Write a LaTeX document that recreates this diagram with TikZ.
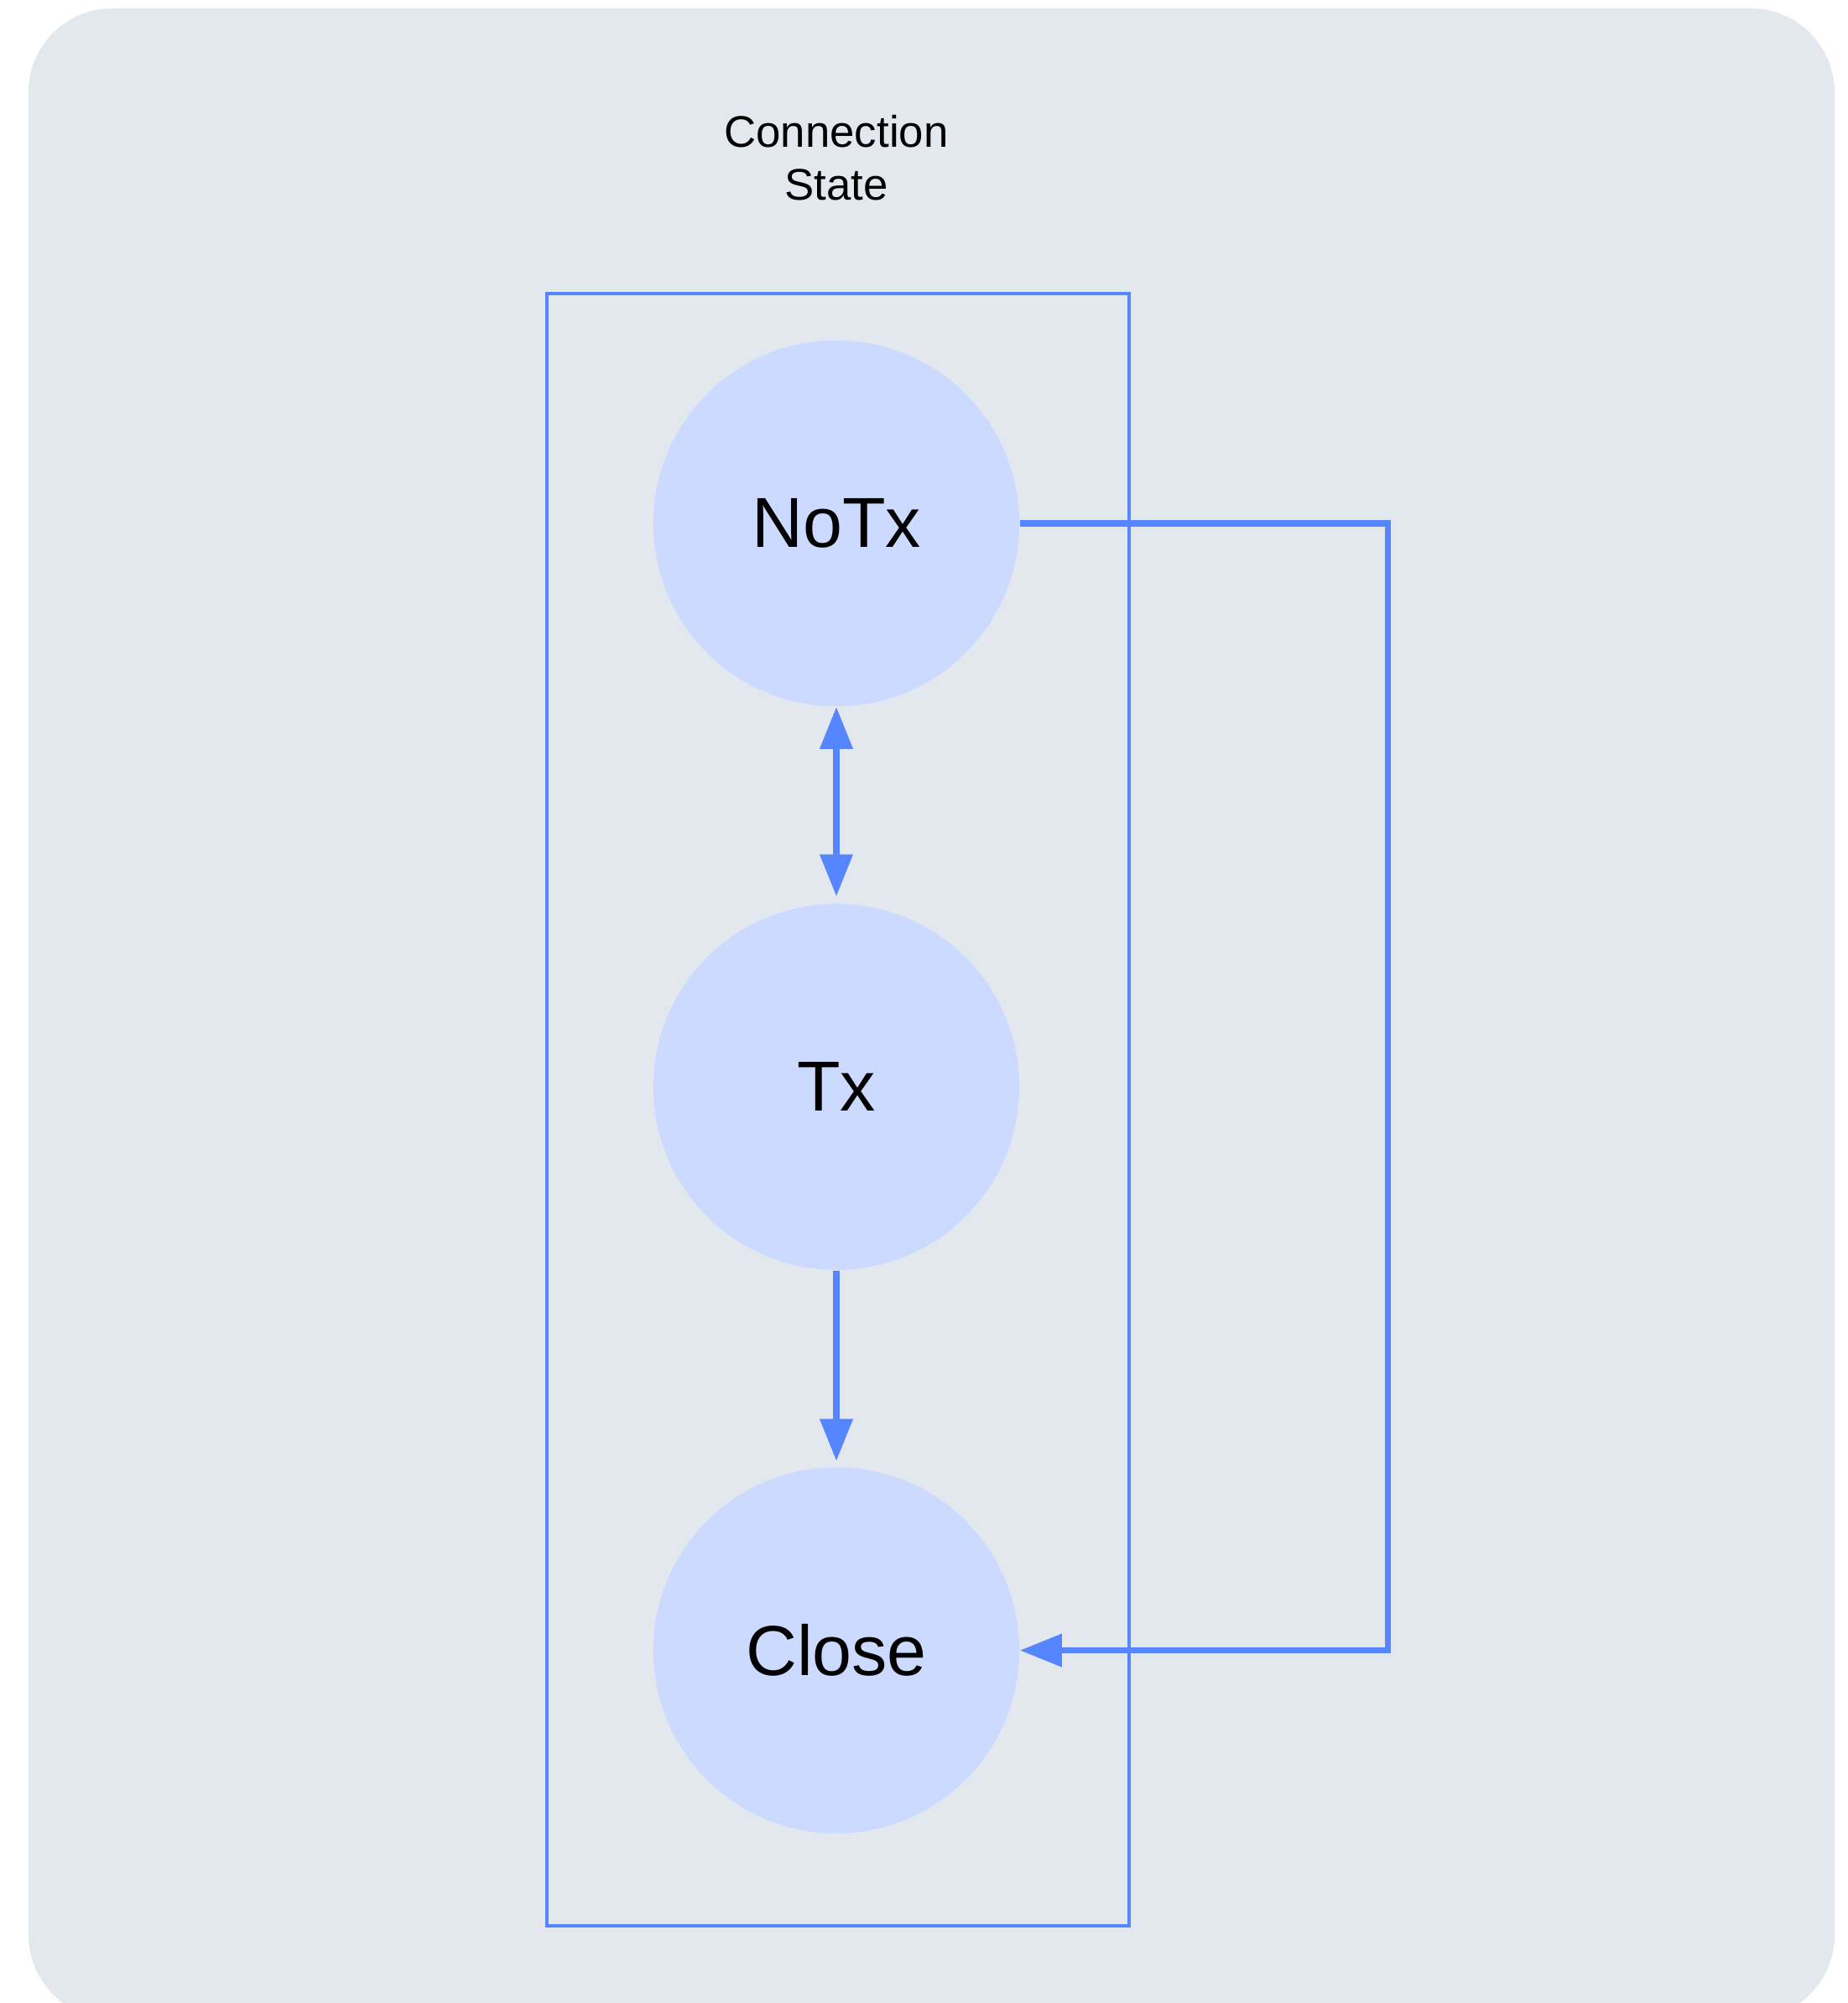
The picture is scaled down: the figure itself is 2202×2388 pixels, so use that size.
\documentclass[tikz,border=0pt]{standalone}
\usepackage{fontspec}
\setmainfont{Liberation Sans}
\usepackage{xcolor}
\usetikzlibrary{arrows.meta,positioning}

\definecolor{bgcol}{RGB}{226,232,237}
\definecolor{statefill}{RGB}{204,218,255}
\definecolor{linkcol}{RGB}{85,133,255}

\begin{document}
\begin{tikzpicture}[
  x=0.01cm, y=-0.01cm,
  node distance=2.34cm,
  state/.style={circle,minimum size=4.36cm,inner sep=0pt,fill=statefill,font=\fontsize{24}{29}\selectfont},
  link/.style={draw=linkcol,line width=2pt,-{Triangle[length=5mm,width=3.8mm]}}
]
\useasboundingbox (0,0) rectangle (2202,2388);
\begin{scope}
\clip (0,0) rectangle (2202,2388);
\fill[bgcol,rounded corners=1cm] (34,10) rectangle (2187,2407);
\end{scope}

\node[align=center,font=\fontsize{15}{18}\selectfont] (title) at (997,188) {Connection\\State};
\draw[linkcol,line width=1.1pt] (652,350) rectangle (1346,2296);

\node[state] (NoTx) at (997,624) {NoTx};
\node[state,below=of NoTx] (Tx) {Tx};
\node[state,below=of Tx] (Close) {Close};

\draw[link,{Triangle[length=5mm,width=3.8mm]}-{Triangle[length=5mm,width=3.8mm]},shorten >=2.4pt] (NoTx) -- (Tx);
\draw[link,shorten >=2pt] (Tx) -- (Close);
\draw[link] (NoTx.east) -- (1654,624) |- (Close.east);
\end{tikzpicture}
\end{document}
